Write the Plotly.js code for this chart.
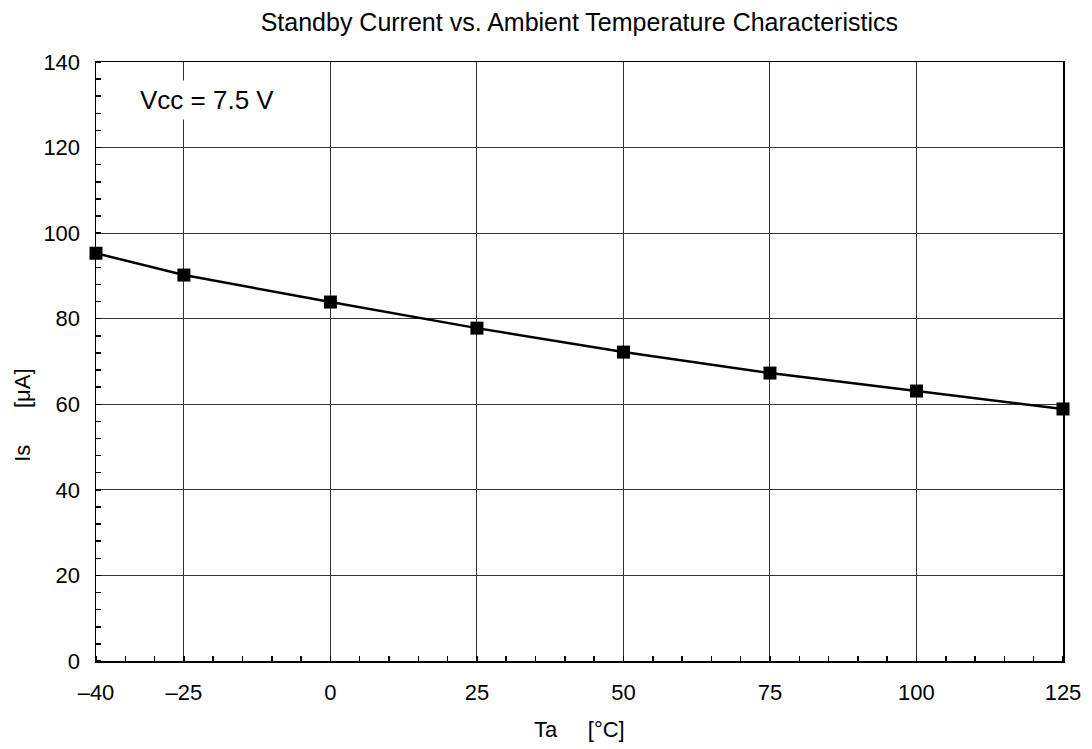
<!DOCTYPE html>
<html>
<head>
<meta charset="utf-8">
<script src="https://cdn.plot.ly/plotly-3.0.1.min.js"></script>
<style>html,body{margin:0;padding:0;background:#fff;}#chart{width:1092px;height:749px;}</style>
</head>
<body>
<div id="chart"></div>
<script>
const temperature = [-40, -25, 0, 25, 50, 75, 100, 125];
const standbyCurrent = [95.3, 90.2, 83.9, 77.8, 72.2, 67.3, 63.1, 58.9];
const xTickVals = [-40, -25, 0, 25, 50, 75, 100, 125];
const xTickText = ["\u201340", "\u201325", "0", "25", "50", "75", "100", "125"];
const yTickVals = [0, 20, 40, 60, 80, 100, 120, 140];
const titleText = "Standby Current vs. Ambient Temperature Characteristics";
const xTitle = "Ta\u00a0\u00a0\u00a0\u00a0\u00a0[\u00b0C]";
const yTitle = "Is\u00a0\u00a0\u00a0\u00a0\u00a0\u00a0[\u03bcA]";
const noteText = "Vcc = 7.5 V";

const font = "Liberation Sans, Arial, sans-serif";

const trace = {
  x: temperature, y: standbyCurrent, type: "scatter", mode: "lines+markers",
  line: {color: "#000", width: 2.5},
  marker: {symbol: "square", size: 13, color: "#000"},
  cliponaxis: false, showlegend: false
};

const layout = {
  width: 1092, height: 749,
  margin: {l: 96, r: 29, t: 62, b: 88},
  paper_bgcolor: "#fff", plot_bgcolor: "#fff",
  font: {family: font, size: 22, color: "#000"},
  title: {text: titleText, font: {family: font, size: 25, color: "#000"}, x: 0.5305, xanchor: "center", y: 0.9705, yanchor: "middle"},
  xaxis: {
    range: [-40, 125], tickvals: xTickVals, ticktext: xTickText,
    showgrid: true, gridcolor: "#333", gridwidth: 1,
    showline: true, linecolor: "#000", linewidth: 1.5, mirror: true,
    ticks: "", zeroline: false, ticklabelstandoff: 11,
    tickfont: {family: font, size: 22, color: "#000"},
    minor: {dtick: 5, tick0: 0, ticks: "inside", ticklen: 5, tickcolor: "#000", tickwidth: 1.5, showgrid: false},
    fixedrange: true
  },
  yaxis: {
    range: [0, 140], tickvals: yTickVals,
    showgrid: true, gridcolor: "#333", gridwidth: 1,
    showline: true, linecolor: "#000", linewidth: 1.5, mirror: true,
    ticks: "", zeroline: false, ticklabelstandoff: 10,
    tickfont: {family: font, size: 22, color: "#000"},
    minor: {dtick: 4, tick0: 0, ticks: "inside", ticklen: 5, tickcolor: "#000", tickwidth: 1.5, showgrid: false},
    fixedrange: true
  },
  annotations: [
    {
      text: noteText, xref: "paper", yref: "paper", x: 0.1148, y: 0.9366,
      xanchor: "center", yanchor: "middle", showarrow: false,
      font: {family: font, size: 26, color: "#000"}, bgcolor: "#fff", borderpad: 4
    },
    {
      text: xTitle, xref: "paper", yref: "paper", x: 0.5, y: -0.115,
      xanchor: "center", yanchor: "middle", showarrow: false,
      font: {family: font, size: 22, color: "#000"}
    },
    {
      text: yTitle, xref: "paper", yref: "paper", x: -0.0755, y: 0.411,
      xanchor: "center", yanchor: "middle", showarrow: false, textangle: -90,
      font: {family: font, size: 22, color: "#000"}
    }
  ]
};

Plotly.newPlot("chart", [trace], layout, {displayModeBar: false, staticPlot: true});
</script>
</body>
</html>
